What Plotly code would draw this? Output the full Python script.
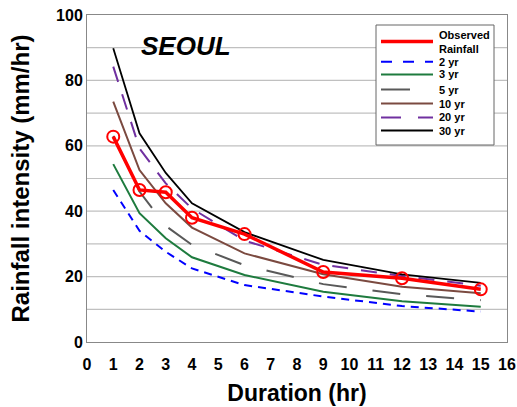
import plotly.graph_objects as go

# Storm durations (hr)
duration = [1, 2, 3, 4, 6, 9, 12, 15]

# Observed rainfall intensity (mm/hr)
observed = [62.8, 46.5, 45.8, 38.0, 33.0, 21.4, 19.5, 16.1]

# IDF curves by return period (mm/hr)
yr2 = [46.5, 34.0, 27.6, 22.5, 17.4, 13.9, 11.0, 9.3]
yr3 = [54.4, 39.4, 31.7, 25.9, 20.5, 15.4, 12.5, 10.8]
yr5 = [63.0, 46.0, 35.5, 29.7, 23.5, 17.7, 14.6, 12.8]
yr10 = [73.5, 52.6, 42.4, 35.0, 27.1, 20.7, 16.9, 14.9]
yr20 = [84.2, 59.2, 48.5, 40.8, 31.0, 23.6, 20.2, 17.2]
yr30 = [89.8, 63.8, 51.7, 42.4, 33.6, 25.1, 20.7, 18.1]

# Axis ticks
x_ticks = list(range(0, 17))
y_ticks = [0, 20, 40, 60, 80, 100]

# Plot-area geometry in pixels (used to place the legend box in paper units)
W, H = 517, 407
ML, MR, MT, MB = 87, 10, 15, 65
PW, PH = W - ML - MR, H - MT - MB


def px_x(p):
    return (p - ML) / PW


def px_y(p):
    return (H - MB - p) / PH


fig = go.Figure()

curves = [
    ("2 yr", yr2, "#0000ff", "8px,6px", 2),
    ("3 yr", yr3, "#1e7b3e", "solid", 2),
    ("5 yr", yr5, "#595959", "28px,26px", 2),
    ("10 yr", yr10, "#7b4a40", "solid", 2),
    ("20 yr", yr20, "#7030a0", "16px,13px", 2),
    ("30 yr", yr30, "#000000", "solid", 1.8),
]
for name, vals, color, dash, w in curves:
    fig.add_trace(go.Scatter(x=duration, y=vals, mode="lines", name=name, showlegend=False,
                             line=dict(color=color, width=w, dash=dash)))

fig.add_trace(go.Scatter(x=duration, y=observed, mode="lines+markers", name="Observed Rainfall",
                         showlegend=False, line=dict(color="#ff0000", width=3.5),
                         marker=dict(symbol="circle-open", size=12, color="#ff0000",
                                     line=dict(width=2, color="#ff0000"))))

fig.add_annotation(x=px_x(186), y=px_y(46), xref="paper", yref="paper", text="<b><i>SEOUL</i></b>",
                   xanchor="center", yanchor="middle", showarrow=False,
                   font=dict(size=26, color="black", family="Liberation Sans"))

# Legend panel
fig.add_shape(type="rect", xref="paper", yref="paper", x0=px_x(376), x1=px_x(494),
              y0=px_y(145), y1=px_y(25), line=dict(color="#666", width=1), fillcolor="white")
legend_rows = [("Observed<br>Rainfall", 41.5, "#ff0000", "solid", 3.5)] + [
    (name, y, color, dash, w)
    for (name, _, color, dash, w), y in zip(curves, [61.7, 74.5, 89.5, 103.5, 117.5, 130.5])
]
legend_dash = {"8px,6px": "11px,11px", "28px,26px": "29px,30px", "16px,13px": "20px,17px"}
for text, yl, color, dash, w in legend_rows:
    fig.add_shape(type="line", xref="paper", yref="paper", x0=px_x(381), x1=px_x(433),
                  y0=px_y(yl), y1=px_y(yl),
                  line=dict(color=color, width=w, dash=legend_dash.get(dash, dash)))
    fig.add_annotation(x=px_x(437), y=px_y(yl), xref="paper", yref="paper",
                       text=f"<b>{text}</b>", xanchor="left", yanchor="middle",
                       align="left", showarrow=False,
                       font=dict(size=11, color="black", family="Liberation Sans"))

fig.update_layout(
    width=W, height=H,
    margin=dict(l=ML, r=MR, t=MT, b=MB, autoexpand=False),
    paper_bgcolor="white", plot_bgcolor="white",
    font=dict(family="Liberation Sans, Arial", color="black"),
    xaxis=dict(range=[0, 16], tickvals=x_ticks, ticktext=[f"<b>{v}</b>" for v in x_ticks],
               showgrid=False, showline=True, linecolor="#888", automargin=False,
               linewidth=1, mirror=True, ticks="", ticklabelstandoff=8,
               tickfont=dict(size=16, weight="bold"),
               title=dict(text="<b>Duration (hr)</b>", font=dict(size=23), standoff=12)),
    yaxis=dict(range=[0, 100], tickvals=y_ticks, ticktext=[f"<b>{v}</b>" for v in y_ticks],
               showgrid=False, showline=True, automargin=False,
               linecolor="#888", linewidth=1, mirror=True, ticks="", zeroline=False,
               tickfont=dict(size=16, weight="bold"),
               title=dict(text="<b>Rainfall intensity (mm/hr)</b>", font=dict(size=24), standoff=19)),
    showlegend=False,
)

# Horizontal gridlines every 10 mm/hr
for g in range(10, 100, 10):
    fig.add_shape(type="line", xref="paper", x0=0, x1=1, yref="y", y0=g, y1=g,
                  line=dict(color="#c0c0c0", width=1.2), layer="below")

fig.write_html("out.html")
